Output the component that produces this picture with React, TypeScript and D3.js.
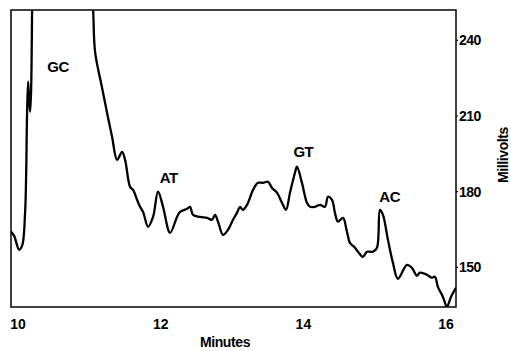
import * as d3 from "d3";
import { useEffect, useRef } from "react";

// retention time (minutes) and detector signal (millivolts)
const minutes = [
  9.902, 9.944, 10.014, 10.056, 10.098, 10.126, 10.14, 10.154, 10.168, 10.182,
  10.196, 10.224, 10.5, 10.9, 11.0, 11.051, 11.079, 11.177, 11.261, 11.317,
  11.388, 11.458, 11.5, 11.57, 11.612, 11.668, 11.71, 11.752, 11.822, 11.892,
  11.962, 12.032, 12.13, 12.228, 12.27, 12.369, 12.411, 12.453, 12.551, 12.649,
  12.719, 12.761, 12.803, 12.873, 12.943, 13.013, 13.069, 13.111, 13.153, 13.21,
  13.294, 13.364, 13.434, 13.504, 13.56, 13.63, 13.7, 13.756, 13.812, 13.882,
  13.91, 13.98, 14.05, 14.093, 14.163, 14.233, 14.303, 14.345, 14.401, 14.443,
  14.485, 14.555, 14.611, 14.653, 14.723, 14.765, 14.835, 14.891, 14.975, 15.032,
  15.074, 15.116, 15.186, 15.256, 15.326, 15.452, 15.522, 15.592, 15.634, 15.732,
  15.802, 15.844, 15.886, 15.957, 16.013, 16.069, 16.139,
];
const millivolts = [
  164.1, 162.5, 157.0, 158.6, 172.0, 211.7, 223.6, 216.4, 211.7, 220.4,
  252.1, 320, 420, 350, 270, 252.1, 235.4, 221.2, 209.3, 201.8,
  192.6, 195.8, 192.6, 181.9, 180.7, 176.8, 174.0, 172.0, 166.1, 170.0,
  180.0, 174.0, 163.7, 170.0, 172.0, 173.2, 174.0, 170.8, 170.0, 169.6,
  168.9, 170.8, 168.1, 162.9, 164.9, 168.9, 171.6, 174.0, 172.8, 174.8,
  180.7, 183.5, 183.5, 183.9, 181.5, 179.6, 175.6, 172.8, 179.6, 187.5,
  189.9, 183.5, 175.6, 174.0, 174.0, 174.8, 174.0, 178.0, 176.8, 171.6,
  168.1, 169.6, 164.1, 159.7, 157.8, 156.2, 154.2, 156.2, 156.2, 157.8,
  172.8, 170.8, 160.9, 151.8, 145.5, 151.0, 149.8, 146.7, 147.9, 147.1,
  145.9, 146.3, 142.3, 138.3, 134.4, 138.3, 141.9,
];

const xTicks = [10, 12, 14, 16];
const yTicks = [150, 180, 210, 240];

const peakLabels = ["GC", "AT", "GT", "AC"];
const peakTimes = [10.56, 12.11, 14.0, 15.21];
const peakValues = [227.5, 183.5, 193.8, 176];

export default function App() {
  const ref = useRef<SVGSVGElement | null>(null);

  useEffect(() => {
    if (!ref.current) return;
    const svg = d3.select(ref.current);
    svg.selectAll("*").remove();

    const width = 511;
    const height = 351;
    const margin = { top: 10, right: 55, bottom: 44, left: 11 };
    const font = "'Liberation Sans', Arial, Helvetica, sans-serif";

    const x = d3
      .scaleLinear()
      .domain([9.9, 16.14])
      .range([margin.left, width - margin.right]);
    const y = d3
      .scaleLinear()
      .domain([134.3, 252])
      .range([height - margin.bottom, margin.top]);

    const data = minutes.map((t, i) => ({ t, v: millivolts[i] }));

    svg.attr("width", width).attr("height", height);

    svg
      .append("defs")
      .append("clipPath")
      .attr("id", "plot-clip")
      .append("rect")
      .attr("x", margin.left)
      .attr("y", margin.top)
      .attr("width", width - margin.left - margin.right)
      .attr("height", height - margin.top - margin.bottom);

    /* frame */
    svg
      .append("rect")
      .attr("x", margin.left)
      .attr("y", margin.top)
      .attr("width", width - margin.left - margin.right)
      .attr("height", height - margin.top - margin.bottom)
      .attr("fill", "none")
      .attr("stroke", "#111")
      .attr("stroke-width", 1.6);

    /* trace */
    const line = d3
      .line<{ t: number; v: number }>()
      .x((d) => x(d.t))
      .y((d) => y(d.v))
      .curve(d3.curveCatmullRom.alpha(0.5));

    svg
      .append("path")
      .datum(data)
      .attr("clip-path", "url(#plot-clip)")
      .attr("d", line)
      .attr("fill", "none")
      .attr("stroke", "#000")
      .attr("stroke-width", 2.3)
      .attr("stroke-linejoin", "round");

    /* x axis labels */
    svg
      .selectAll(".xlab")
      .data(xTicks)
      .enter()
      .append("text")
      .attr("x", (d) => x(d))
      .attr("y", 329)
      .attr("text-anchor", "middle")
      .style("font-family", font)
      .style("font-weight", "bold")
      .style("font-size", "14px")
      .text((d) => d);

    /* y axis on the right */
    const right = width - margin.right;
    svg
      .selectAll(".ytick")
      .data(yTicks)
      .enter()
      .append("line")
      .attr("x1", right)
      .attr("x2", right + 2)
      .attr("y1", (d) => y(d))
      .attr("y2", (d) => y(d))
      .attr("stroke", "#111")
      .attr("stroke-width", 1.2);

    svg
      .selectAll(".ylab")
      .data(yTicks)
      .enter()
      .append("text")
      .attr("x", right + 3)
      .attr("y", (d) => y(d) + 5)
      .style("font-family", font)
      .style("font-weight", "bold")
      .style("font-size", "14px")
      .style("letter-spacing", "-0.5px")
      .text((d) => d);

    /* axis titles */
    svg
      .append("text")
      .attr("x", 225)
      .attr("y", 347)
      .attr("text-anchor", "middle")
      .style("font-family", font)
      .style("font-weight", "bold")
      .style("font-size", "14px")
      .style("letter-spacing", "-0.4px")
      .text("Minutes");

    svg
      .append("text")
      .attr("transform", "translate(508, 155) rotate(-90)")
      .attr("text-anchor", "middle")
      .style("font-family", font)
      .style("font-weight", "bold")
      .style("font-size", "14px")
      .style("letter-spacing", "-0.4px")
      .text("Millivolts");

    /* peak labels */
    svg
      .selectAll(".peak")
      .data(peakLabels)
      .enter()
      .append("text")
      .attr("x", (_, i) => x(peakTimes[i]))
      .attr("y", (_, i) => y(peakValues[i]))
      .attr("text-anchor", "middle")
      .style("font-family", font)
      .style("font-weight", "bold")
      .style("font-size", "15px")
      .style("letter-spacing", "-0.5px")
      .text((d) => d);
  }, []);

  return (
    <svg
      ref={ref}
      style={{ position: "absolute", left: 0, top: 0, width: 511, height: 351 }}
    />
  );
}
